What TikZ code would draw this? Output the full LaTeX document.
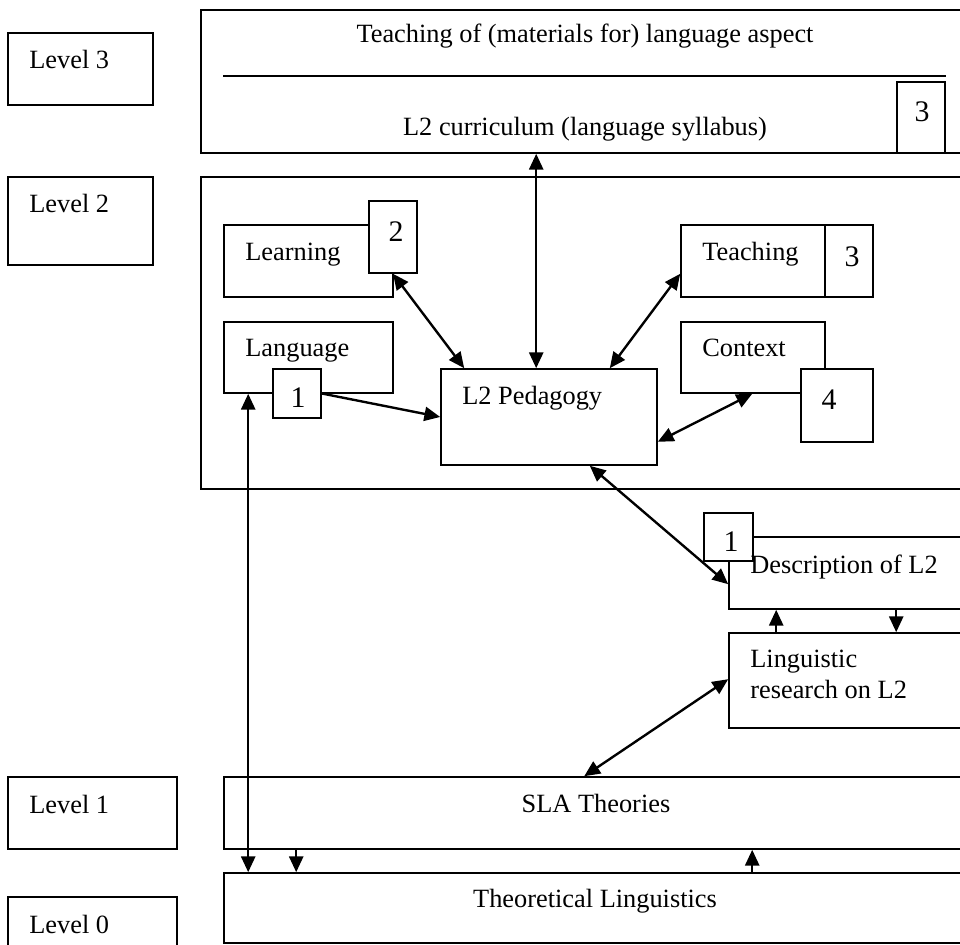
\documentclass[tikz,border=0pt]{standalone}
\usepackage{fontspec}
\setmainfont{Liberation Serif}
\usetikzlibrary{arrows.meta,calc,fit}
\begin{document}
\begin{tikzpicture}[x=0.02cm,y=-0.02cm,
  box/.style={draw,line width=0.9pt,inner sep=0pt},
  numbox/.style={box,fill=white},
  txt/.style={inner sep=0pt,anchor=base west,font=\fontsize{15}{18}\selectfont},
  ctxt/.style={inner sep=0pt,anchor=base,font=\fontsize{15}{18}\selectfont},
  dig/.style={inner sep=0pt,anchor=base,font=\fontsize{17}{20}\selectfont},
  arr/.style={line width=1.35pt,-{Triangle[length=9pt,width=8pt]}},
  both/.style={line width=1.35pt,{Triangle[length=9pt,width=8pt]}-{Triangle[length=9pt,width=8pt]}}]
\fill[white] (0,0) rectangle (960,945);
\useasboundingbox (0,0) rectangle (960,945);

% level labels
\node[box,fit={(8,33)(153,105)}] (lv3) {};
\node[box,fit={(8,177)(153,265)}] (lv2) {};
\node[box,fit={(8,777)(177,849)}] (lv1) {};
\node[box,fit={(8,897)(177,965)}] (lv0) {};
\node[txt] (lv3t) at (29,69) {Level 3};
\node[txt] (lv2t) at (29,213) {Level 2};
\node[txt] (lv1t) at (29,813) {Level 1};
\node[txt] (lv0t) at (29,933) {Level 0};

% large frames
\node[box,fit={(201,10)(975,153)}] (top) {};
\node[box,fit={(201,177)(975,489)}] (frame2) {};
\node[box,fit={(224,777)(975,849)}] (sla) {};
\node[box,fit={(224,873)(975,943)}] (tl) {};
\node[box,fit={(729,537)(975,609)}] (desc) {};
\node[box,fit={(729,633)(975,728)}] (ling) {};

% level 2 content
\node[box,fit={(224,225)(393,297)}] (learn) {};
\node[box,fit={(224,322)(393,393)}] (lang) {};
\node[box,fit={(681,225)(825,297)}] (teach) {};
\node[box,fit={(681,322)(825,393)}] (ctx) {};
\node[box,fit={(441,369)(657,465)}] (ped) {};

% numbered tags
\node[numbox,fit={(897,82)(945,153)}] (n3top) {};
\node[numbox,fit={(369,201)(417,273)}] (n2) {};
\node[numbox,fit={(273,369)(321,418)}] (n1) {};
\node[numbox,fit={(825,225)(873,297)}] (n3) {};
\node[numbox,fit={(801,369)(873,442)}] (n4) {};
\node[numbox,fit={(704,513)(753,561)}] (n1d) {};

% separator in the top frame
\draw[line width=0.9pt] ($(top.north west)+(23,67)$) coordinate (sepL) -- ($(n3top.north east)+(0,-5)$) coordinate (sepR);

% connectors
\coordinate (pTop) at ($(ped.north west)+(96,0)$);
\draw[both] (pTop |- top.south) -- (pTop);
\draw[both] (n2.south) -- ($(ped.north west)+(24,0)$);
\draw[arr] (n1.east) -- (ped.west);
\draw[both] ($(teach.south west)+(0,-24)$) -- ($(ped.north east)+(-48,0)$);
\draw[both] ($(ctx.south west)+(72,0)$) -- ($(ped.south east)+(0,-24)$);
\draw[both] ($(ped.south east)+(-68,0)$) -- ($(desc.north west)+(0,48)$);
\draw[arr] ($(ling.north west)+(48,0)$) -- ($(desc.south west)+(48,0)$);
\draw[arr] ($(desc.south west)+(168,0)$) -- ($(ling.north west)+(168,0)$);
\draw[both] ($(ling.north west)+(0,47)$) -- ($(sla.north west)+(361,0)$);
\draw[arr] ($(tl.north west)+(529,0)$) -- ($(sla.south west)+(529,0)$);
\draw[arr] ($(sla.south west)+(73,0)$) -- ($(tl.north west)+(73,0)$);
\draw[both] ($(lang.south west)+(25,0)$) -- ($(tl.north west)+(25,0)$);

% texts
\node[ctxt] (topt1) at (585,43) {Teaching of (materials for) language aspect};
\node[ctxt] (topt2) at (585,136) {L2 curriculum (language syllabus)};
\node[dig] (n3topt) at (922,122) {3};
\node[txt] (learnt) at (245,261) {Learning};
\node[dig] (n2t) at (396,242) {2};
\node[txt] (langt) at (245,357) {Language};
\node[dig] (n1t) at (298,408) {1};
\node[txt] (pedt) at (462,405) {L2 Pedagogy};
\node[txt] (teacht) at (702,261) {Teaching};
\node[dig] (n3t) at (852,267) {3};
\node[txt] (ctxt) at (702,357) {Context};
\node[dig] (n4t) at (829,410) {4};
\node[dig] (n1dt) at (731,552) {1};
\node[txt] (desct) at (750,573) {Description of L2};
\node[txt] (lingt1) at (750,667) {Linguistic};
\node[txt] (lingt2) at (750,698) {research on L2};
\node[ctxt] (slat) at (596,812) {SLA Theories};
\node[ctxt] (tlt) at (595,907) {Theoretical Linguistics};
\end{tikzpicture}
\end{document}
